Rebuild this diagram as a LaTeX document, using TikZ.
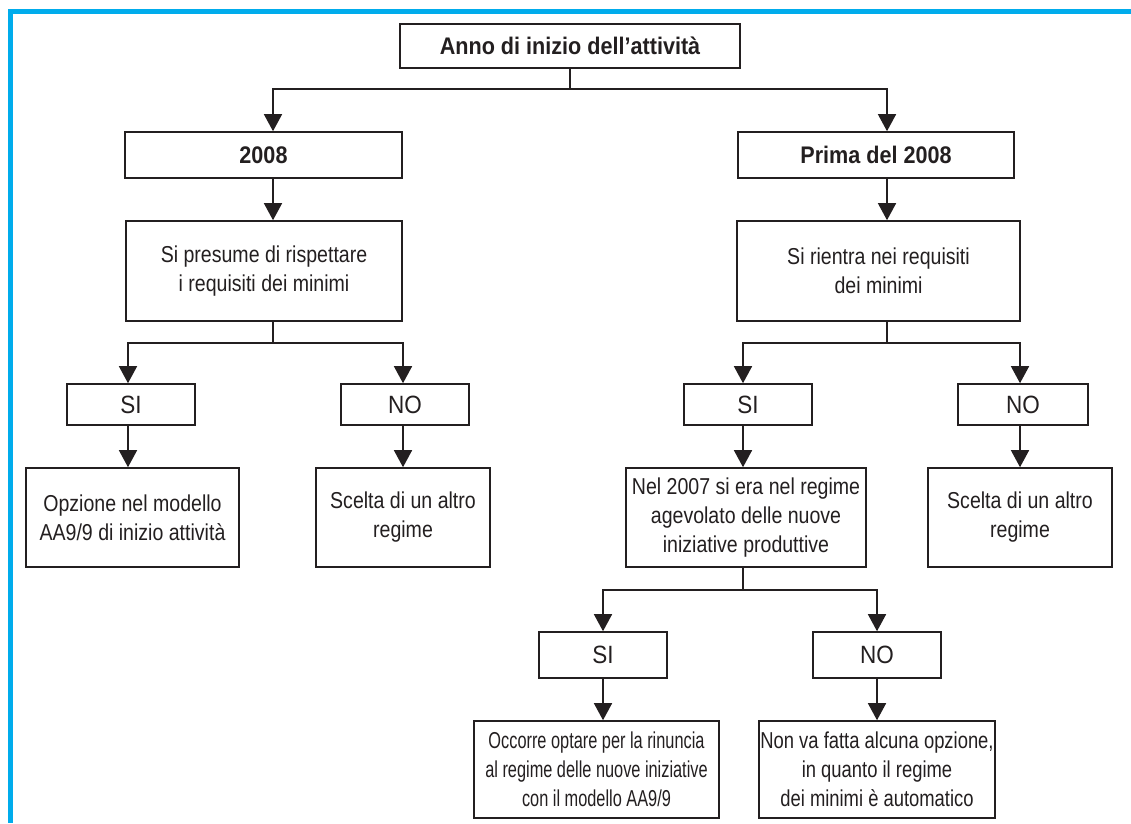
\documentclass[tikz,border=0pt]{standalone}
\usepackage{fontspec}
\setmainfont{Liberation Sans}[FakeStretch=0.85]
\newfontfamily\boldfam{Liberation Sans}[FakeStretch=0.90]
\newfontfamily\yesnofam{Liberation Sans}[FakeStretch=0.90]
\newfontfamily\narrowfam{Liberation Sans}[FakeStretch=0.71]
\newfontfamily\midfam{Liberation Sans}[FakeStretch=0.80]
\usetikzlibrary{arrows.meta}
\definecolor{frameblue}{RGB}{0,172,236}
\definecolor{ink}{RGB}{35,31,32}
\tikzset{
  box/.style={draw=ink, line width=1.6pt, fill=white, inner sep=0pt, align=center,
    text=ink, font=\fontsize{23}{29}\selectfont},
  boldbox/.style={box, font=\boldfam\fontsize{24}{29}\selectfont\bfseries},
  yesno/.style={box, font=\yesnofam\fontsize{25}{29}\selectfont},
  narrowbox/.style={box, font=\narrowfam\fontsize{23}{29}\selectfont},
  midbox/.style={box, font=\midfam\fontsize{23}{29}\selectfont},
  link/.style={draw=ink, line width=1.5pt},
  arr/.style={link, -{Triangle[width=18pt,length=17pt]}}
}
\begin{document}
\begin{tikzpicture}[x=1pt,y=-1pt]
\useasboundingbox (0,0) rectangle (1131,823);
\fill[frameblue] (8,9) rectangle (1131,14);
\fill[frameblue] (8,9) rectangle (13,823);

% nodes
\node[boldbox, minimum width=340pt, minimum height=44pt] (top) at (570,46) {Anno di inizio dell’attività};
\node[boldbox, minimum width=277pt, minimum height=46pt] (b2008) at (263.5,155) {2008};
\node[boldbox, minimum width=276pt, minimum height=46pt] (prima) at (876,155) {Prima del 2008};
\node[box, minimum width=276pt, minimum height=100pt] (presume) at (264,271) {Si presume di rispettare\\i requisiti dei minimi};
\node[box, minimum width=283pt, minimum height=100pt] (rientra) at (878.5,271) {Si rientra nei requisiti\\dei minimi};
\node[yesno, minimum width=128pt, minimum height=41pt] (siL) at (131,404.5) {SI};
\node[yesno, minimum width=128pt, minimum height=41pt] (noL) at (405,404.5) {NO};
\node[yesno, minimum width=128pt, minimum height=41pt] (siR) at (748,404.5) {SI};
\node[yesno, minimum width=130pt, minimum height=41pt] (noR) at (1023,404.5) {NO};
\node[box, minimum width=213pt, minimum height=99pt] (opz) at (132.5,517.5) {Opzione nel modello\\AA9/9 di inizio attività};
\node[box, minimum width=174pt, minimum height=99pt] (sceltaL) at (403,517.5) {Scelta di un altro\\regime};
\node[box, minimum width=240pt, minimum height=99pt] (nel) at (746,517.5) {Nel 2007 si era nel regime\\agevolato delle nuove\\iniziative produttive};
\node[box, minimum width=184pt, minimum height=99pt] (sceltaR) at (1020,517.5) {Scelta di un altro\\regime};
\node[yesno, minimum width=128pt, minimum height=46pt] (siLow) at (603,655) {SI};
\node[yesno, minimum width=128pt, minimum height=46pt] (noLow) at (877,655) {NO};
\node[narrowbox, minimum width=245pt, minimum height=97pt] (occ) at (596.5,769.5) {Occorre optare per la rinuncia\\al regime delle nuove iniziative\\con il modello AA9/9};
\node[midbox, minimum width=236pt, minimum height=97pt] (nonva) at (877,769.5) {Non va fatta alcuna opzione,\\in quanto il regime\\dei minimi è automatico};

% column coordinates
\coordinate (j1) at (570,89);
\coordinate (cA) at (273,0);
\coordinate (cB) at (887,0);
\coordinate (j2) at (273,343);
\coordinate (j3) at (887,343);
\coordinate (cSiL) at (128,0);
\coordinate (cNoL) at (403,0);
\coordinate (cSiR) at (743,0);
\coordinate (cNoR) at (1020,0);
\coordinate (j4) at (743,590);
\coordinate (cSiLow) at (603,0);
\coordinate (cNoLow) at (877,0);

% connectors
\draw[link] (top.south) -- (j1);
\draw[arr] (j1) -| (cA |- b2008.north);
\draw[arr] (j1) -| (cB |- prima.north);
\draw[arr] (cA |- b2008.south) -- (cA |- presume.north);
\draw[arr] (cB |- prima.south) -- (cB |- rientra.north);
\draw[link] (cA |- presume.south) -- (j2);
\draw[arr] (j2) -| (cSiL |- siL.north);
\draw[arr] (j2) -| (cNoL |- noL.north);
\draw[link] (cB |- rientra.south) -- (j3);
\draw[arr] (j3) -| (cSiR |- siR.north);
\draw[arr] (j3) -| (cNoR |- noR.north);
\draw[arr] (cSiL |- siL.south) -- (cSiL |- opz.north);
\draw[arr] (cNoL |- noL.south) -- (cNoL |- sceltaL.north);
\draw[arr] (cSiR |- siR.south) -- (cSiR |- nel.north);
\draw[arr] (cNoR |- noR.south) -- (cNoR |- sceltaR.north);
\draw[link] (cSiR |- nel.south) -- (j4);
\draw[arr] (j4) -| (cSiLow |- siLow.north);
\draw[arr] (j4) -| (cNoLow |- noLow.north);
\draw[arr] (cSiLow |- siLow.south) -- (cSiLow |- occ.north);
\draw[arr] (cNoLow |- noLow.south) -- (cNoLow |- nonva.north);
\end{tikzpicture}
\end{document}
